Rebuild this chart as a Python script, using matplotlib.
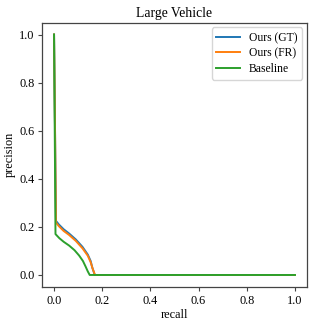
import matplotlib
matplotlib.use("Agg")
import matplotlib.pyplot as plt

plt.rcParams["font.family"] = ["Liberation Serif", "DejaVu Serif"]

# precision-recall values
gt_recall = [0.0, 0.008, 0.02, 0.04, 0.063, 0.09, 0.118, 0.14, 0.152, 0.159, 0.169, 0.2, 1.0]
gt_precision = [1.0, 0.225, 0.21, 0.19, 0.172, 0.148, 0.117, 0.085, 0.058, 0.03, 0.0, 0.0, 0.0]

fr_recall = [0.0, 0.008, 0.02, 0.04, 0.063, 0.09, 0.118, 0.14, 0.152, 0.16, 0.17, 0.2, 1.0]
fr_precision = [1.0, 0.218, 0.203, 0.183, 0.166, 0.142, 0.111, 0.08, 0.053, 0.027, 0.0, 0.0, 0.0]

base_recall = [0.0, 0.006, 0.022, 0.04, 0.063, 0.085, 0.104, 0.12, 0.131, 0.14, 0.148, 0.2, 1.0]
base_precision = [1.0, 0.17, 0.153, 0.138, 0.122, 0.103, 0.081, 0.058, 0.035, 0.015, 0.0, 0.0, 0.0]

fig = plt.figure(figsize=(3.16, 3.25), dpi=100)
ax = fig.add_axes([42 / 316, 1 - 287 / 325, 265 / 316, 264.5 / 325])

ax.plot(gt_recall, gt_precision, color="#1f77b4", linewidth=1.4, label="Ours (GT)")
ax.plot(fr_recall, fr_precision, color="#ff7f0e", linewidth=1.4, label="Ours (FR)")
ax.plot(base_recall, base_precision, color="#2ca02c", linewidth=1.4, label="Baseline")

ax.set_xlim(-0.05, 1.05)
ax.set_ylim(-0.05, 1.05)
ax.set_xticks([0.0, 0.2, 0.4, 0.6, 0.8, 1.0])
ax.set_yticks([0.0, 0.2, 0.4, 0.6, 0.8, 1.0])
ax.tick_params(labelsize=8.8, length=3, width=0.8, color="#444", pad=2.5)
for s in ax.spines.values():
    s.set_color("#444")
    s.set_linewidth(0.9)
ax.set_xlabel("recall", fontsize=8.8, labelpad=2)
ax.set_ylabel("precision", fontsize=8.8, labelpad=2)
ax.set_title("Large Vehicle", fontsize=9.8, pad=4)
ax.legend(loc="upper right", fontsize=8.4, borderaxespad=0.4, labelspacing=0.3)

fig.savefig("out.png", dpi=100)
